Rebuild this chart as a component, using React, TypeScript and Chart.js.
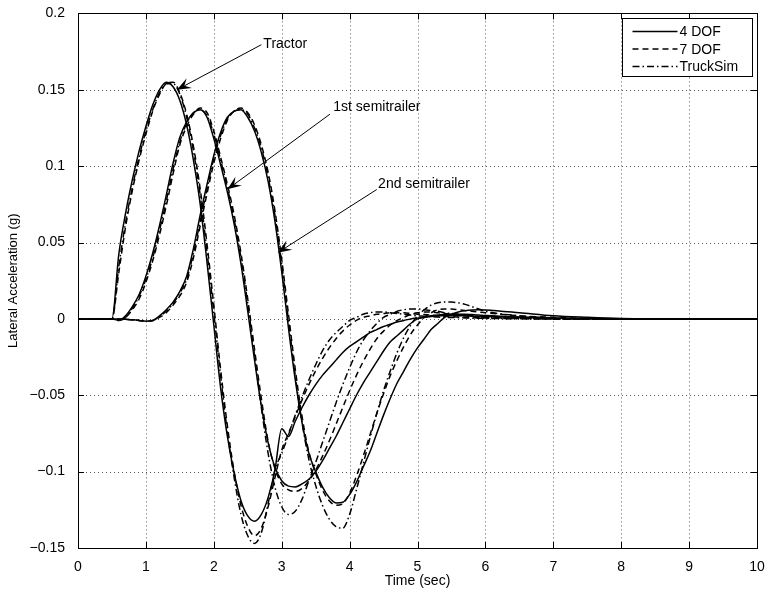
import React, { useEffect, useRef } from "react";
import { Chart, registerables } from "chart.js";

Chart.register(...registerables);

// ---------- data ----------
const TIME = [
  0, 0.5, 0.6, 0.7, 0.8, 0.9, 1.0, 1.1, 1.2, 1.3,
  1.4, 1.5, 1.6, 1.7, 1.8, 1.9, 2.0, 2.1, 2.2, 2.3,
  2.4, 2.5, 2.6, 2.7, 2.8, 2.9, 3.0, 3.1, 3.2, 3.3,
  3.4, 3.5, 3.6, 3.7, 3.8, 3.9, 4.0, 4.1, 4.2, 4.3,
  4.4, 4.5, 4.6, 4.7, 4.8, 4.9, 5.0, 5.1, 5.2, 5.3,
  5.4, 5.5, 5.6, 5.7, 5.8, 5.9, 6.0,
  6.5, 7.0, 7.5, 8.0, 9.0, 10.0,
];

// Tractor
const TRACTOR_4DOF = [
  0, 0, 0.042, 0.069, 0.091, 0.110, 0.126, 0.140, 0.150, 0.155,
  0.152, 0.143, 0.127, 0.104, 0.075, 0.037, -0.004, -0.045, -0.077, -0.101,
  -0.119, -0.129, -0.1325, -0.128, -0.117, -0.099, -0.072, -0.077, -0.067, -0.058,
  -0.050, -0.043, -0.037, -0.032, -0.027, -0.022, -0.018, -0.015, -0.012, -0.009,
  -0.007, -0.005, -0.0035, -0.002, -0.001, 0, 0.0005, 0.001, 0.0015, 0.002,
  0.002, 0.002, 0.002, 0.002, 0.0018, 0.0016, 0.0015,
  0.001, 0.0004, 0.0002, 0, 0, 0,
];
const TRACTOR_7DOF = [
  0, 0, 0.030, 0.060, 0.084, 0.104, 0.121, 0.136, 0.147, 0.154,
  0.155, 0.148, 0.134, 0.113, 0.085, 0.049, 0.009, -0.033, -0.070, -0.100,
  -0.122, -0.136, -0.142, -0.137, -0.123, -0.104, -0.086, -0.075, -0.064, -0.053,
  -0.043, -0.034, -0.026, -0.019, -0.013, -0.008, -0.004, -0.001, 0.001, 0.002,
  0.003, 0.0035, 0.004, 0.004, 0.004, 0.0035, 0.003, 0.0028, 0.0025, 0.002,
  0.0018, 0.0015, 0.0012, 0.001, 0.0008, 0.0006, 0.0005,
  0.0002, 0, 0, 0, 0, 0,
];
const TRACTOR_TRUCKSIM = [
  0, 0, 0.034, 0.063, 0.086, 0.106, 0.123, 0.137, 0.148, 0.154,
  0.154, 0.147, 0.132, 0.110, 0.081, 0.044, 0.004, -0.037, -0.074, -0.104,
  -0.128, -0.142, -0.147, -0.140, -0.121, -0.099, -0.088, -0.076, -0.063, -0.051,
  -0.040, -0.030, -0.021, -0.014, -0.009, -0.005, -0.001, 0.001, 0.003, 0.004,
  0.0045, 0.0045, 0.004, 0.0035, 0.003, 0.0025, 0.002, 0.0018, 0.0015, 0.0012,
  0.001, 0.0009, 0.0008, 0.0006, 0.0005, 0.0004, 0.0003,
  0.0001, 0, 0, 0, 0, 0,
];

// 1st semitrailer
const SEMI1_4DOF = [
  0, 0, -0.001, 0.002, 0.008, 0.016, 0.028, 0.043, 0.061, 0.081,
  0.102, 0.119, 0.129, 0.135, 0.137, 0.132, 0.118, 0.101, 0.083, 0.062,
  0.036, 0.005, -0.027, -0.057, -0.081, -0.097, -0.106, -0.1095, -0.110, -0.108,
  -0.105, -0.100, -0.093, -0.085, -0.077, -0.068, -0.059, -0.050, -0.042, -0.035,
  -0.028, -0.021, -0.015, -0.011, -0.007, -0.003, 0, 0.001, 0.002, 0.0025,
  0.003, 0.003, 0.003, 0.003, 0.0028, 0.0025, 0.0022,
  0.0012, 0.0005, 0.0002, 0, 0, 0,
];
const SEMI1_7DOF = [
  0, 0, -0.001, 0.001, 0.006, 0.013, 0.024, 0.038, 0.055, 0.074,
  0.095, 0.114, 0.126, 0.134, 0.138, 0.135, 0.123, 0.106, 0.088, 0.068,
  0.043, 0.013, -0.020, -0.052, -0.080, -0.098, -0.108, -0.112, -0.113, -0.111,
  -0.106, -0.099, -0.090, -0.080, -0.069, -0.058, -0.047, -0.037, -0.028, -0.020,
  -0.013, -0.008, -0.004, -0.001, 0.001, 0.003, 0.004, 0.0045, 0.0045, 0.004,
  0.0035, 0.003, 0.0025, 0.002, 0.0015, 0.001, 0.001,
  0.0005, 0, 0, 0, 0, 0,
];
const SEMI1_TRUCKSIM = [
  0, 0, -0.001, 0.001, 0.007, 0.015, 0.026, 0.040, 0.058, 0.077,
  0.098, 0.116, 0.128, 0.135, 0.137, 0.133, 0.121, 0.104, 0.086, 0.065,
  0.040, 0.010, -0.024, -0.058, -0.088, -0.110, -0.123, -0.128, -0.126, -0.118,
  -0.106, -0.094, -0.081, -0.068, -0.055, -0.043, -0.032, -0.022, -0.014, -0.008,
  -0.003, 0.001, 0.003, 0.005, 0.006, 0.0065, 0.0065, 0.006, 0.0055, 0.005,
  0.004, 0.0035, 0.003, 0.0025, 0.002, 0.0015, 0.001,
  0.0005, 0, 0, 0, 0, 0,
];

// 2nd semitrailer
const SEMI2_4DOF = [
  0, 0, 0, -0.0003, -0.0006, -0.001, -0.0015, -0.001, 0.002, 0.006,
  0.011, 0.018, 0.028, 0.046, 0.068, 0.088, 0.107, 0.122, 0.132, 0.136,
  0.137, 0.132, 0.123, 0.109, 0.090, 0.064, 0.031, -0.006, -0.040, -0.068,
  -0.088, -0.100, -0.110, -0.117, -0.1205, -0.120, -0.115, -0.107, -0.097, -0.087,
  -0.075, -0.063, -0.052, -0.042, -0.034, -0.026, -0.019, -0.013, -0.007, -0.003,
  0.001, 0.003, 0.0045, 0.0053, 0.0058, 0.006, 0.0058,
  0.004, 0.002, 0.001, 0.0003, 0, 0,
];
const SEMI2_7DOF = [
  0, 0, 0, -0.0003, -0.0006, -0.001, -0.0015, -0.0012, 0.001, 0.004,
  0.009, 0.015, 0.024, 0.040, 0.061, 0.082, 0.102, 0.118, 0.130, 0.136,
  0.138, 0.135, 0.127, 0.114, 0.096, 0.071, 0.039, 0.003, -0.033, -0.064,
  -0.087, -0.101, -0.112, -0.119, -0.122, -0.121, -0.114, -0.103, -0.090, -0.076,
  -0.062, -0.049, -0.037, -0.027, -0.018, -0.010, -0.004, 0.001, 0.004, 0.006,
  0.0065, 0.0065, 0.006, 0.0055, 0.005, 0.0045, 0.004,
  0.002, 0.001, 0.0003, 0, 0, 0,
];
const SEMI2_TRUCKSIM = [
  0, 0, 0, -0.0003, -0.0006, -0.001, -0.0015, -0.0011, 0.0015, 0.005,
  0.010, 0.017, 0.026, 0.043, 0.064, 0.085, 0.105, 0.120, 0.131, 0.136,
  0.137, 0.134, 0.125, 0.112, 0.093, 0.068, 0.036, -0.001, -0.037, -0.068,
  -0.092, -0.109, -0.122, -0.131, -0.136, -0.137, -0.128, -0.112, -0.095, -0.078,
  -0.062, -0.047, -0.034, -0.022, -0.012, -0.004, 0.002, 0.006, 0.009, 0.0105,
  0.011, 0.011, 0.0105, 0.0095, 0.008, 0.0065, 0.005,
  0.002, 0.0005, 0, 0, 0, 0,
];

const X_TICKS = [0, 1, 2, 3, 4, 5, 6, 7, 8, 9, 10];
const Y_TICKS = [-0.15, -0.1, -0.05, 0, 0.05, 0.1, 0.15, 0.2];
const LEGEND_LABELS = ["4 DOF", "7 DOF", "TruckSim"];

// annotations: label, label anchor (data), arrow tail (data), arrow tip (data)
const ANNOT_LABELS = ["Tractor", "1st semitrailer", "2nd semitrailer"];
const ANNOT_TEXT_AT = [[2.73, 0.18], [3.76, 0.1385], [4.42, 0.088]];
const ANNOT_TAIL_AT = [[2.7, 0.1795], [3.71, 0.134], [4.4, 0.0847]];
const ANNOT_TIP_AT = [[1.457, 0.150], [2.2, 0.0848], [2.94, 0.0433]];

const FONT = "'Liberation Sans', Arial, Helvetica, sans-serif";
const DASH_7DOF = [6, 4];
const DASH_TS = [7, 3, 1.5, 3];

function fmt(v: number) {
  const r = Math.round(v * 1000) / 1000;
  return r < 0 ? "\u2212" + String(-r) : String(r);
}

const framePlugin = {
  id: "frame",
  beforeDatasetsDraw(chart: any) {
    const { ctx, chartArea } = chart;
    const { left, right, top, bottom } = chartArea;
    const xs = chart.scales.x;
    const ys = chart.scales.y;
    ctx.save();
    // dotted grid
    ctx.strokeStyle = "#555";
    ctx.lineWidth = 1;
    ctx.setLineDash([1, 3]);
    X_TICKS.forEach((v) => {
      if (v === X_TICKS[0] || v === X_TICKS[X_TICKS.length - 1]) return;
      const px = Math.round(xs.getPixelForValue(v)) + 0.5;
      ctx.beginPath();
      ctx.moveTo(px, top);
      ctx.lineTo(px, bottom);
      ctx.stroke();
    });
    Y_TICKS.forEach((v) => {
      if (v === Y_TICKS[0] || v === Y_TICKS[Y_TICKS.length - 1]) return;
      const py = Math.round(ys.getPixelForValue(v)) + 0.5;
      ctx.beginPath();
      ctx.moveTo(left, py);
      ctx.lineTo(right, py);
      ctx.stroke();
    });
    ctx.setLineDash([]);
    ctx.strokeStyle = "#000";
    // tick marks (inside)
    const TL = 6;
    X_TICKS.forEach((v) => {
      const px = Math.round(xs.getPixelForValue(v)) + 0.5;
      ctx.beginPath();
      ctx.moveTo(px, bottom);
      ctx.lineTo(px, bottom - TL);
      ctx.moveTo(px, top);
      ctx.lineTo(px, top + TL);
      ctx.stroke();
    });
    Y_TICKS.forEach((v) => {
      const py = Math.round(ys.getPixelForValue(v)) + 0.5;
      ctx.beginPath();
      ctx.moveTo(left, py);
      ctx.lineTo(left + TL, py);
      ctx.moveTo(right, py);
      ctx.lineTo(right - TL, py);
      ctx.stroke();
    });
    ctx.restore();
  },
  afterDatasetsDraw(chart: any) {
    const { ctx, chartArea } = chart;
    const { left, right, top, bottom } = chartArea;
    const xs = chart.scales.x;
    const ys = chart.scales.y;
    ctx.save();
    // box
    ctx.strokeStyle = "#000";
    ctx.lineWidth = 1;
    ctx.strokeRect(Math.round(left) + 0.5, Math.round(top) + 0.5, Math.round(right - left), Math.round(bottom - top));

    // annotations
    ctx.font = "14px " + FONT;
    ctx.fillStyle = "#000";
    ctx.textBaseline = "middle";
    ctx.textAlign = "left";
    ANNOT_LABELS.forEach((label, i) => {
      const tx = xs.getPixelForValue(ANNOT_TEXT_AT[i][0]);
      const ty = ys.getPixelForValue(ANNOT_TEXT_AT[i][1]);
      ctx.fillText(label, tx, ty);
      const ax = xs.getPixelForValue(ANNOT_TAIL_AT[i][0]);
      const ay = ys.getPixelForValue(ANNOT_TAIL_AT[i][1]);
      const bx = xs.getPixelForValue(ANNOT_TIP_AT[i][0]);
      const by = ys.getPixelForValue(ANNOT_TIP_AT[i][1]);
      const dx = bx - ax;
      const dy = by - ay;
      const len = Math.hypot(dx, dy);
      const ux = dx / len;
      const uy = dy / len;
      const nx = -uy;
      const ny = ux;
      const L = 14;
      const W = 5.5;
      ctx.lineWidth = 1;
      ctx.beginPath();
      ctx.moveTo(ax, ay);
      ctx.lineTo(bx - ux * L * 0.6, by - uy * L * 0.6);
      ctx.stroke();
      ctx.beginPath();
      ctx.moveTo(bx, by);
      ctx.lineTo(bx - ux * L + nx * W, by - uy * L + ny * W);
      ctx.lineTo(bx - ux * L * 0.6, by - uy * L * 0.6);
      ctx.lineTo(bx - ux * L - nx * W, by - uy * L - ny * W);
      ctx.closePath();
      ctx.fill();
    });

    // legend
    const lx = 622.5;
    const ly = 18.5;
    const lw = 130;
    const lh = 58;
    ctx.fillStyle = "#fff";
    ctx.fillRect(lx, ly, lw, lh);
    ctx.strokeStyle = "#000";
    ctx.lineWidth = 1;
    ctx.strokeRect(lx, ly, lw, lh);
    const dashes = [[], DASH_7DOF, DASH_TS];
    ctx.font = "14px " + FONT;
    ctx.fillStyle = "#000";
    LEGEND_LABELS.forEach((lab, i) => {
      const yy = ly + 13 + i * 17.5;
      ctx.lineWidth = 1.5;
      ctx.setLineDash(dashes[i]);
      ctx.beginPath();
      ctx.moveTo(lx + 10, yy);
      ctx.lineTo(lx + 55, yy);
      ctx.stroke();
      ctx.setLineDash([]);
      ctx.fillText(lab, lx + 57, yy + 1);
    });
    ctx.restore();
  },
};

function mk(label: string, arr: number[], dash: number[]) {
  return {
    label,
    data: TIME.map((t, i) => ({ x: t, y: arr[i] })),
    borderColor: "#000",
    backgroundColor: "#000",
    borderWidth: 1.5,
    borderDash: dash,
    pointRadius: 0,
    fill: false,
    cubicInterpolationMode: "monotone" as const,
  };
}

export default function App() {
  const ref = useRef<HTMLCanvasElement | null>(null);
  useEffect(() => {
    if (!ref.current) return;
    const chart = new Chart(ref.current, {
      type: "line",
      data: {
        datasets: [
          mk("TruckSim tractor", TRACTOR_TRUCKSIM, DASH_TS),
          mk("TruckSim 1st", SEMI1_TRUCKSIM, DASH_TS),
          mk("TruckSim 2nd", SEMI2_TRUCKSIM, DASH_TS),
          mk("7 DOF tractor", TRACTOR_7DOF, DASH_7DOF),
          mk("7 DOF 1st", SEMI1_7DOF, DASH_7DOF),
          mk("7 DOF 2nd", SEMI2_7DOF, DASH_7DOF),
          mk("4 DOF tractor", TRACTOR_4DOF, []),
          mk("4 DOF 1st", SEMI1_4DOF, []),
          mk("4 DOF 2nd", SEMI2_4DOF, []),
        ],
      },
      options: {
        responsive: false,
        animation: false,
        layout: { padding: { left: 0, right: 11, top: 12, bottom: 0 } },
        plugins: { legend: { display: false }, tooltip: { enabled: false } },
        scales: {
          x: {
            type: "linear",
            min: 0,
            max: 10,
            grid: { display: false },
            border: { display: false },
            afterFit: (s: any) => { s.height = 44; },
            afterBuildTicks: (s: any) => { s.ticks = X_TICKS.map((v) => ({ value: v })); },
            ticks: {
              color: "#000",
              font: { family: FONT, size: 14 },
              padding: 3,
              maxRotation: 0,
              autoSkip: false,
              callback: (v: any) => fmt(Number(v)),
            },
            title: {
              display: true,
              text: "Time (sec)",
              color: "#000",
              font: { family: FONT, size: 14 },
              padding: { top: 0, bottom: 2 },
            },
          },
          y: {
            type: "linear",
            min: -0.15,
            max: 0.2,
            grid: { display: false },
            border: { display: false },
            afterFit: (s: any) => { s.width = 78; },
            afterBuildTicks: (s: any) => { s.ticks = Y_TICKS.map((v) => ({ value: v })); },
            ticks: {
              color: "#000",
              font: { family: FONT, size: 14 },
              padding: 5,
              autoSkip: false,
              callback: (v: any) => fmt(Number(v)),
            },
            title: {
              display: true,
              text: "Lateral Acceleration (g)",
              color: "#000",
              font: { family: FONT, size: 13 },
              padding: { top: 6, bottom: 0 },
            },
          },
        },
      },
      plugins: [framePlugin],
    });
    return () => chart.destroy();
  }, []);
  return (
    <div style={{ position: "absolute", left: 0, top: 0, width: 768, height: 592, background: "#fff" }}>
      <canvas ref={ref} width={768} height={592} style={{ display: "block" }} />
    </div>
  );
}
